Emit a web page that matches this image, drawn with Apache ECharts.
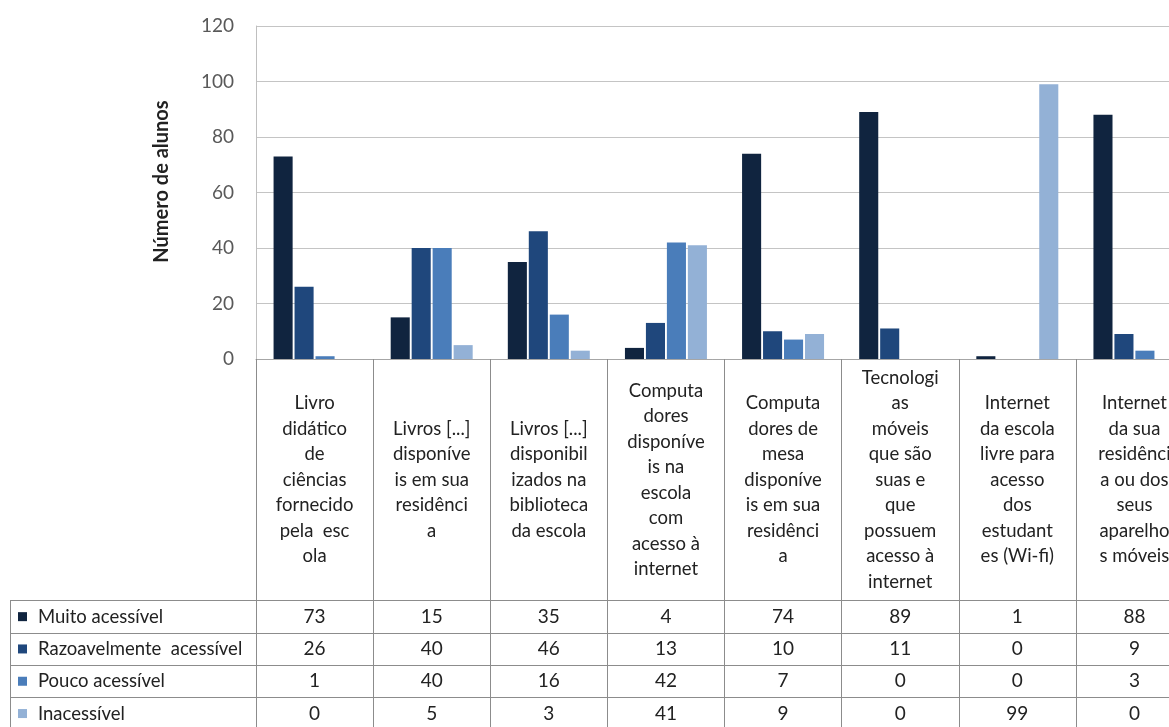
<!DOCTYPE html>
<html>
<head>
<meta charset="utf-8">
<script src="https://cdn.jsdelivr.net/npm/echarts@6/dist/echarts.min.js"></script>
<style>
  html, body { margin: 0; padding: 0; background: #ffffff; }
  #chart { width: 1169px; height: 727px; }
</style>
</head>
<body>
<div id="chart"></div>
<script>
// ---- data ----
var categories = [
  "Livro\ndidático\nde\nciências\nfornecido\npela  esc\nola",
  "Livros [...]\ndisponíve\nis em sua\nresidênci\na",
  "Livros [...]\ndisponibil\nizados na\nbiblioteca\nda escola",
  "Computa\ndores\ndisponíve\nis na\nescola\ncom\nacesso à\ninternet",
  "Computa\ndores de\nmesa\ndisponíve\nis em sua\nresidênci\na",
  "Tecnologi\nas\nmóveis\nque são\nsuas e\nque\npossuem\nacesso à\ninternet",
  "Internet\nda escola\nlivre para\nacesso\ndos\nestudant\nes (Wi-fi)",
  "Internet\nda sua\nresidênci\na ou dos\nseus\naparelho\ns móveis"
];
var seriesNames = ["Muito acessível", "Razoavelmente  acessível", "Pouco acessível", "Inacessível"];
var muitoAcessivel = [73, 15, 35, 4, 74, 89, 1, 88];
var razoavelmenteAcessivel = [26, 40, 46, 13, 10, 11, 0, 9];
var poucoAcessivel = [1, 40, 16, 42, 7, 0, 0, 3];
var inacessivel = [0, 5, 3, 41, 9, 0, 99, 0];
var yTicks = [0, 20, 40, 60, 80, 100, 120];
var yAxisName = "Número de alunos";

// ---- styling ----
var colors = ["#10243f", "#1f477c", "#4a7dba", "#93b1d6"];
var FONT = "Lato";
var seriesValues = [muitoAcessivel, razoavelmenteAcessivel, poucoAcessivel, inacessivel];

var chart = echarts.init(document.getElementById('chart'), null, { renderer: 'canvas' });

var rich = {
  g: { width: 11, fontSize: 18.5 },
  t: { fontSize: 18.5, fontFamily: FONT, color: '#222222' }
};
colors.forEach(function (c, i) {
  rich['s' + i] = { width: 9, height: 9, backgroundColor: c };
});

var cellData = [];
seriesValues.forEach(function (arr, r) {
  arr.forEach(function (v, c) { cellData.push([c, r, v]); });
});

var barSeries = seriesNames.map(function (name, i) {
  return {
    name: name,
    type: 'bar',
    xAxisIndex: 0,
    yAxisIndex: 0,
    data: seriesValues[i],
    barGap: '10%',
    barCategoryGap: '30%',
    itemStyle: { color: colors[i] },
    emphasis: { disabled: true }
  };
});

var tableLine = '#8c8c8c';

var option = {
  animation: false,
  backgroundColor: '#ffffff',
  textStyle: { fontFamily: FONT },
  grid: [
    { left: 256, top: 26, width: 937, height: 333, outerBoundsMode: 'none', containLabel: false },
    { left: 256, top: 600.5, width: 937, height: 129.2, outerBoundsMode: 'none', containLabel: false }
  ],
  xAxis: [
    {
      type: 'category',
      gridIndex: 0,
      data: categories,
      axisLine: { show: true, lineStyle: { color: '#a6a6a6', width: 1 } },
      axisTick: { show: true, interval: 0, length: 370, lineStyle: { color: tableLine } },
      axisLabel: {
        interval: 0,
        margin: 121,
        verticalAlign: 'middle',
        align: 'center',
        fontSize: 18.5,
        lineHeight: 25.5,
        fontFamily: FONT,
        color: '#222222'
      },
      splitLine: { show: false }
    },
    {
      type: 'category',
      gridIndex: 1,
      position: 'top',
      data: categories,
      axisLine: { show: true, lineStyle: { color: tableLine } },
      axisTick: { show: false },
      axisLabel: { show: false },
      splitLine: { show: false }
    }
  ],
  yAxis: [
    {
      type: 'value',
      gridIndex: 0,
      min: 0,
      max: 120,
      interval: 20,
      name: yAxisName,
      nameLocation: 'middle',
      nameGap: 84,
      nameRotate: 90,
      nameTextStyle: { fontSize: 20, fontWeight: 'bold', color: '#222222', fontFamily: FONT, padding: [0, 0, 0, 22] },
      axisLine: { show: true, lineStyle: { color: '#bfbfbf' } },
      axisTick: { show: false },
      axisLabel: {
        margin: 22,
        fontSize: 19,
        color: '#595959',
        fontFamily: FONT,
        formatter: function (v) { return yTicks.indexOf(v) >= 0 ? String(v) : ''; }
      },
      splitLine: { show: true, lineStyle: { color: '#c4c4c4', width: 1 } }
    },
    {
      type: 'category',
      gridIndex: 1,
      inverse: true,
      data: seriesNames,
      axisLine: { show: true, lineStyle: { color: tableLine } },
      axisTick: { show: true, interval: 0, length: 246, lineStyle: { color: tableLine } },
      splitLine: { show: true, interval: 0, lineStyle: { color: tableLine } },
      axisLabel: {
        interval: 0,
        align: 'left',
        margin: 238,
        rich: rich,
        formatter: function (v, idx) {
          return '{s' + idx + '|}{g| }{t|' + v + '}';
        }
      }
    },
    {
      type: 'category',
      gridIndex: 1,
      position: 'left',
      offset: 246,
      data: seriesNames,
      inverse: true,
      axisLine: { show: true, lineStyle: { color: tableLine } },
      axisTick: { show: false },
      axisLabel: { show: false },
      splitLine: { show: false }
    }
  ],
  series: barSeries.concat([
    {
      type: 'custom',
      name: 'table',
      xAxisIndex: 1,
      yAxisIndex: 1,
      data: cellData,
      silent: true,
      renderItem: function (params, api) {
        var p = api.coord([api.value(0), api.value(1)]);
        return {
          type: 'text',
          x: p[0],
          y: p[1],
          style: {
            text: String(api.value(2)),
            align: 'center',
            verticalAlign: 'middle',
            fontSize: 19,
            fontFamily: FONT,
            fill: '#222222'
          }
        };
      }
    }
  ])
};

chart.setOption(option);
</script>
</body>
</html>
